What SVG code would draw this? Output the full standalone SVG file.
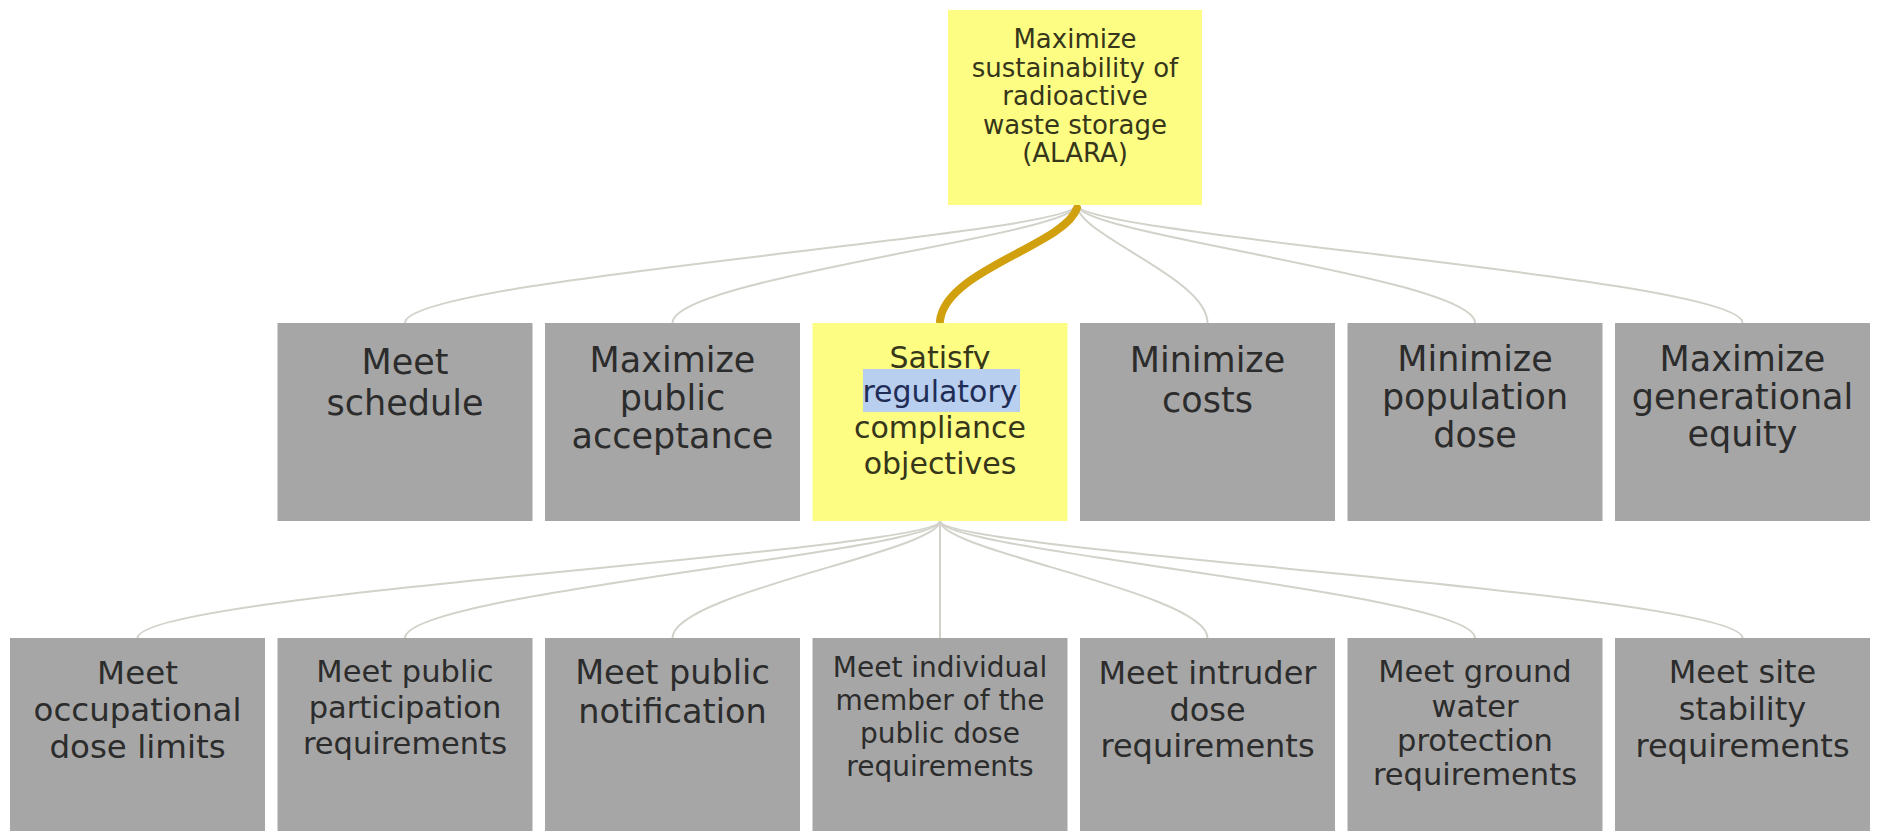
<svg xmlns="http://www.w3.org/2000/svg" width="1878" height="831" viewBox="0 0 1878 831">
  <style>
    .box{fill:#a6a6a6}
    .sel{fill:#fdfd84}
    text{font-family:"DejaVu Sans",Verdana,sans-serif;text-anchor:middle}
    .g{fill:#2c2c2c}
    .y{fill:#36361a}
    .link{fill:none;stroke:#d2d2ca;stroke-width:2}
    .hot{fill:none;stroke:#d1a00e;stroke-width:8;stroke-linecap:round}
  </style>
  <rect width="1878" height="831" fill="#ffffff"/>

  <!-- connectors -->
  <g id="connectors">
    <!-- goal to objectives -->
    <path class="link" d="M1077 205 C1077 235 405 278 405 323"/>
    <path class="link" d="M1077 205 C1077 235 672.5 278 672.5 323"/>
    <path class="link" d="M1077 205 C1077 235 1207.5 278 1207.5 323"/>
    <path class="link" d="M1077 205 C1077 235 1475 278 1475 323"/>
    <path class="link" d="M1077 205 C1077 235 1742.5 278 1742.5 323"/>
    <path class="hot" d="M1077 208 C1065 245 945 270 940 321"/>
    <!-- compliance objective to requirements -->
    <path class="link" d="M940 521 C940 551 137.5 593 137.5 638"/>
    <path class="link" d="M940 521 C940 551 405 593 405 638"/>
    <path class="link" d="M940 521 C940 551 672.5 593 672.5 638"/>
    <path class="link" d="M940 521 L940 638"/>
    <path class="link" d="M940 521 C940 551 1207.5 593 1207.5 638"/>
    <path class="link" d="M940 521 C940 551 1475 593 1475 638"/>
    <path class="link" d="M940 521 C940 551 1742.5 593 1742.5 638"/>
  </g>

  <!-- top goal -->
  <g id="goal">
    <rect class="sel" x="948" y="10" width="254" height="195"/>
    <g class="y" font-size="26">
      <text x="1075" y="48">Maximize</text>
      <text x="1075" y="77">sustainability of</text>
      <text x="1075" y="105">radioactive</text>
      <text x="1075" y="134">waste storage</text>
      <text x="1075" y="162">(ALARA)</text>
    </g>
  </g>

  <!-- objectives -->
  <g id="meet-schedule">
    <rect class="box" x="277.5" y="323" width="255" height="198"/>
    <g class="g" font-size="35">
      <text x="405" y="374">Meet</text>
      <text x="405" y="415">schedule</text>
    </g>
  </g>
  <g id="public-acceptance">
    <rect class="box" x="545" y="323" width="255" height="198"/>
    <g class="g" font-size="35">
      <text x="672.5" y="372">Maximize</text>
      <text x="672.5" y="410">public</text>
      <text x="672.5" y="448">acceptance</text>
    </g>
  </g>
  <g id="regulatory-compliance">
    <rect class="sel" x="812.5" y="323" width="255" height="198"/>
    <g font-size="30">
      <text class="y" x="940" y="368">Satisfy</text>
      <!-- selection highlight over the second line -->
      <rect x="863" y="369" width="157" height="43" fill="#b8cff0"/>
      <text x="940" y="402" fill="#1f2d55">regulatory</text>
      <text class="y" x="940" y="438">compliance</text>
      <text class="y" x="940" y="474">objectives</text>
    </g>
  </g>
  <g id="minimize-costs">
    <rect class="box" x="1080" y="323" width="255" height="198"/>
    <g class="g" font-size="35">
      <text x="1207.5" y="372">Minimize</text>
      <text x="1207.5" y="412">costs</text>
    </g>
  </g>
  <g id="population-dose">
    <rect class="box" x="1347.5" y="323" width="255" height="198"/>
    <g class="g" font-size="35">
      <text x="1475" y="371">Minimize</text>
      <text x="1475" y="409">population</text>
      <text x="1475" y="447">dose</text>
    </g>
  </g>
  <g id="generational-equity">
    <rect class="box" x="1615" y="323" width="255" height="198"/>
    <g class="g" font-size="35">
      <text x="1742.5" y="371">Maximize</text>
      <text x="1742.5" y="409">generational</text>
      <text x="1742.5" y="446">equity</text>
    </g>
  </g>

  <!-- requirements -->
  <g id="occupational-dose">
    <rect class="box" x="10" y="638" width="255" height="210"/>
    <g class="g" font-size="32.5">
      <text x="137.5" y="684">Meet</text>
      <text x="137.5" y="721">occupational</text>
      <text x="137.5" y="758">dose limits</text>
    </g>
  </g>
  <g id="public-participation">
    <rect class="box" x="277.5" y="638" width="255" height="210"/>
    <g class="g" font-size="30.5">
      <text x="405" y="682">Meet public</text>
      <text x="405" y="718">participation</text>
      <text x="405" y="754">requirements</text>
    </g>
  </g>
  <g id="public-notification">
    <rect class="box" x="545" y="638" width="255" height="210"/>
    <g class="g" font-size="33.5">
      <text x="672.5" y="684">Meet public</text>
      <text x="672.5" y="723">notification</text>
    </g>
  </g>
  <g id="individual-dose">
    <rect class="box" x="812.5" y="638" width="255" height="210"/>
    <g class="g" font-size="28">
      <text x="940" y="677">Meet individual</text>
      <text x="940" y="710">member of the</text>
      <text x="940" y="743">public dose</text>
      <text x="940" y="776">requirements</text>
    </g>
  </g>
  <g id="intruder-dose">
    <rect class="box" x="1080" y="638" width="255" height="210"/>
    <g class="g" font-size="32">
      <text x="1207.5" y="684">Meet intruder</text>
      <text x="1207.5" y="721">dose</text>
      <text x="1207.5" y="757">requirements</text>
    </g>
  </g>
  <g id="ground-water">
    <rect class="box" x="1347.5" y="638" width="255" height="210"/>
    <g class="g" font-size="30.5">
      <text x="1475" y="682">Meet ground</text>
      <text x="1475" y="717">water</text>
      <text x="1475" y="751">protection</text>
      <text x="1475" y="785">requirements</text>
    </g>
  </g>
  <g id="site-stability">
    <rect class="box" x="1615" y="638" width="255" height="210"/>
    <g class="g" font-size="32">
      <text x="1742.5" y="683">Meet site</text>
      <text x="1742.5" y="720">stability</text>
      <text x="1742.5" y="757">requirements</text>
    </g>
  </g>
</svg>
